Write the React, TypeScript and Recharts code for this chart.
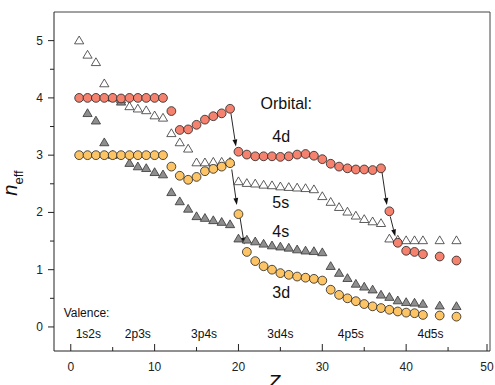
import { ScatterChart, Scatter, XAxis, YAxis, ReferenceLine } from "recharts";

const FONT = '"Liberation Sans", Arial, Helvetica, sans-serif';

const zAll = [
  1, 2, 3, 4, 5, 6, 7, 8, 9, 10, 11, 12, 13, 14, 15, 16, 17, 18, 19, 20, 21,
  22, 23, 24, 25, 26, 27, 28, 29, 30, 31, 32, 33, 34, 35, 36, 37, 38, 39, 40,
  41, 42, 44, 46,
];

// n_eff values, one per entry in zAll
const n4d = [
  4.0, 4.0, 4.0, 4.0, 4.0, 3.99, 4.0, 4.0, 4.0, 4.0, 4.0, 3.77, 3.44, 3.45,
  3.53, 3.62, 3.68, 3.73, 3.81, 3.06, 3.01, 2.98, 2.98, 2.98, 2.97, 2.98, 3.01,
  3.02, 2.99, 2.93, 2.85, 2.8, 2.77, 2.75, 2.75, 2.74, 2.77, 2.02, 1.47, 1.33,
  1.31, 1.27, 1.23, 1.16,
];
const n3d = [
  3.0, 3.0, 3.0, 3.0, 3.0, 3.0, 3.0, 3.0, 3.0, 3.0, 3.0, 2.8, 2.64, 2.57, 2.62,
  2.72, 2.76, 2.8, 2.86, 1.97, 1.31, 1.15, 1.06, 1.0, 0.94, 0.91, 0.88, 0.86,
  0.84, 0.81, 0.65, 0.56, 0.5, 0.45, 0.4, 0.36, 0.33, 0.3, 0.27, 0.25, 0.24,
  0.21, 0.2, 0.18,
];
const n5s = [
  5.0, 4.75, 4.62, 4.25, 4.0, 3.97, 3.85, 3.81, 3.78, 3.69, 3.65, 3.38, 3.22,
  3.11, 2.87, 2.87, 2.88, 2.88, 2.88, 2.54, 2.51, 2.5, 2.48, 2.47, 2.45, 2.44,
  2.43, 2.42, 2.4, 2.28, 2.18, 2.09, 2.01, 1.94, 1.88, 1.84, 1.81, 1.54, 1.52,
  1.51, 1.51, 1.51, 1.51, 1.51,
];
// 4s starts at Z = 2
const n4s = [
  3.73, 3.6, 3.22, 3.0, 3.93, 2.86, 2.8, 2.77, 2.7, 2.66, 2.35, 2.19, 2.06,
  1.93, 1.9, 1.86, 1.83, 1.79, 1.54, 1.52, 1.49, 1.45, 1.42, 1.4, 1.38, 1.35,
  1.33, 1.32, 1.3, 1.06, 0.94, 0.85, 0.75, 0.7, 0.65, 0.56, 0.52, 0.46, 0.43,
  0.42, 0.4, 0.37, 0.36,
];

// arrows between jumps: [z1, n1, z2, n2]
const arrows = [
  [19.1, 3.73, 19.7, 3.15],
  [19.2, 2.75, 19.8, 2.13],
  [20.2, 1.9, 20.7, 1.44],
  [37.1, 2.72, 37.7, 2.13],
  [38.1, 1.93, 38.7, 1.58],
];

const orbitalLabels = [
  { z: 25.7, n: 3.91, text: "Orbital:" },
  { z: 25.1, n: 3.32, text: "4d" },
  { z: 25.05, n: 2.17, text: "5s" },
  { z: 25.05, n: 1.66, text: "4s" },
  { z: 25.1, n: 0.6, text: "3d" },
];
const valenceLabels = [
  { z: 2.1, n: -0.13, text: "1s2s" },
  { z: 8.0, n: -0.13, text: "2p3s" },
  { z: 15.9, n: -0.13, text: "3p4s" },
  { z: 25.0, n: -0.13, text: "3d4s" },
  { z: 33.4, n: -0.13, text: "4p5s" },
  { z: 42.9, n: -0.13, text: "4d5s" },
];
const valenceTitle = [{ z: -0.85, n: 0.25, text: "Valence:" }];

const xTicks = [0, 5, 10, 15, 20, 25, 30, 35, 40, 45, 50];
const yTicks = [0, 0.5, 1, 1.5, 2, 2.5, 3, 3.5, 4, 4.5, 5];

const d4d = zAll.map((z, i) => ({ z, n: n4d[i] }));
const d3d = zAll.map((z, i) => ({ z, n: n3d[i] }));
const d5s = zAll.map((z, i) => ({ z, n: n5s[i] }));
const d4s = zAll.slice(1).map((z, i) => ({ z, n: n4s[i] }));

const Circle = (fill: string) => (p: any) =>
  <circle cx={p.cx} cy={p.cy} r={4.4} fill={fill} stroke="#222" strokeWidth={0.8} />;

const Triangle = (fill: string) => (p: any) => (
  <polygon
    points={`${p.cx},${p.cy - 4.6} ${p.cx - 4.6},${p.cy + 3.2} ${p.cx + 4.6},${p.cy + 3.2}`}
    fill={fill}
    stroke="#333"
    strokeWidth={0.8}
  />
);

const TextMark = (size: number, anchor: string) => (p: any) => (
  <text
    x={p.cx}
    y={p.cy}
    fontSize={size}
    fontFamily={FONT}
    textAnchor={anchor}
    dominantBaseline="central"
    fill="#111"
  >
    {p.payload.text}
  </text>
);

const XTick = (p: any) => {
  const v = p.payload.value;
  const major = v % 10 === 0;
  return (
    <g>
      <line x1={p.x} x2={p.x} y1={p.y} y2={p.y - (major ? 7 : 4)} stroke="#222" strokeWidth={1} />
      {major && (
        <text x={p.x} y={p.y + 20} fontSize={12} fontFamily={FONT} textAnchor="middle" fill="#222">
          {v}
        </text>
      )}
    </g>
  );
};

const YTick = (p: any) => {
  const v = p.payload.value;
  const major = Number.isInteger(v);
  return (
    <g>
      <line x1={p.x} x2={p.x - (major ? 6 : 4)} y1={p.y} y2={p.y} stroke="#222" strokeWidth={1} />
      {major && (
        <text x={p.x - 11} y={p.y} fontSize={12} fontFamily={FONT} textAnchor="end" dominantBaseline="central" fill="#222">
          {v}
        </text>
      )}
    </g>
  );
};

const Arrow = (p: any) => {
  const { x1, y1, x2, y2 } = p;
  const a = Math.atan2(y2 - y1, x2 - x1);
  const L = 7;
  const W = 2.4;
  const bx = x2 - L * Math.cos(a);
  const by = y2 - L * Math.sin(a);
  const px = -Math.sin(a) * W;
  const py = Math.cos(a) * W;
  return (
    <g>
      <line x1={x1} y1={y1} x2={bx} y2={by} stroke="#111" strokeWidth={0.9} />
      <polygon points={`${x2},${y2} ${bx + px},${by + py} ${bx - px},${by - py}`} fill="#111" />
    </g>
  );
};

export default function App() {
  return (
    <div style={{ position: "absolute", left: 0, top: 0 }}>
      <ScatterChart width={495} height={385} margin={{ top: 12, right: 5, bottom: 0, left: 0 }}>
        <XAxis
          type="number"
          dataKey="z"
          domain={[-2, 50]}
          ticks={xTicks}
          height={34}
          tickSize={0}
          tickMargin={0}
          tickLine={false}
          tick={XTick}
          stroke="#222"
          allowDataOverflow
          label={{
            content: () => (
              <text x={274} y={389} fontSize={20} fontStyle="italic" fontFamily={FONT} textAnchor="middle" fill="#111">
                Z
              </text>
            ),
          }}
        />
        <YAxis
          type="number"
          dataKey="n"
          domain={[-0.42, 5.5]}
          ticks={yTicks}
          width={54}
          tickSize={0}
          tickMargin={0}
          tickLine={false}
          tick={YTick}
          stroke="#222"
          allowDataOverflow
          label={{
            content: () => (
              <text transform="rotate(-90 17 183)" x={17} y={183} fontFamily={FONT} textAnchor="middle" fill="#111">
                <tspan fontSize={20} fontStyle="italic">n</tspan>
                <tspan fontSize={13} dy={6}>eff</tspan>
              </text>
            ),
          }}
        />
        <ReferenceLine y={5.5} stroke="#444" strokeWidth={1} />
        <ReferenceLine x={50} stroke="#444" strokeWidth={1} />
        <Scatter data={d5s} shape={Triangle("#ffffff")} isAnimationActive={false} />
        <Scatter data={d4s} shape={Triangle("#8e8e8e")} isAnimationActive={false} />
        <Scatter data={d4d} shape={Circle("#f4826f")} isAnimationActive={false} />
        <Scatter data={d3d} shape={Circle("#fdc466")} isAnimationActive={false} />
        {arrows.map((a, i) => (
          <ReferenceLine
            key={i}
            segment={[
              { x: a[0], y: a[1] },
              { x: a[2], y: a[3] },
            ]}
            shape={Arrow}
          />
        ))}
        <Scatter data={orbitalLabels} shape={TextMark(16, "middle")} isAnimationActive={false} />
        <Scatter data={valenceLabels} shape={TextMark(12, "middle")} isAnimationActive={false} />
        <Scatter data={valenceTitle} shape={TextMark(12, "start")} isAnimationActive={false} />
      </ScatterChart>
    </div>
  );
}
